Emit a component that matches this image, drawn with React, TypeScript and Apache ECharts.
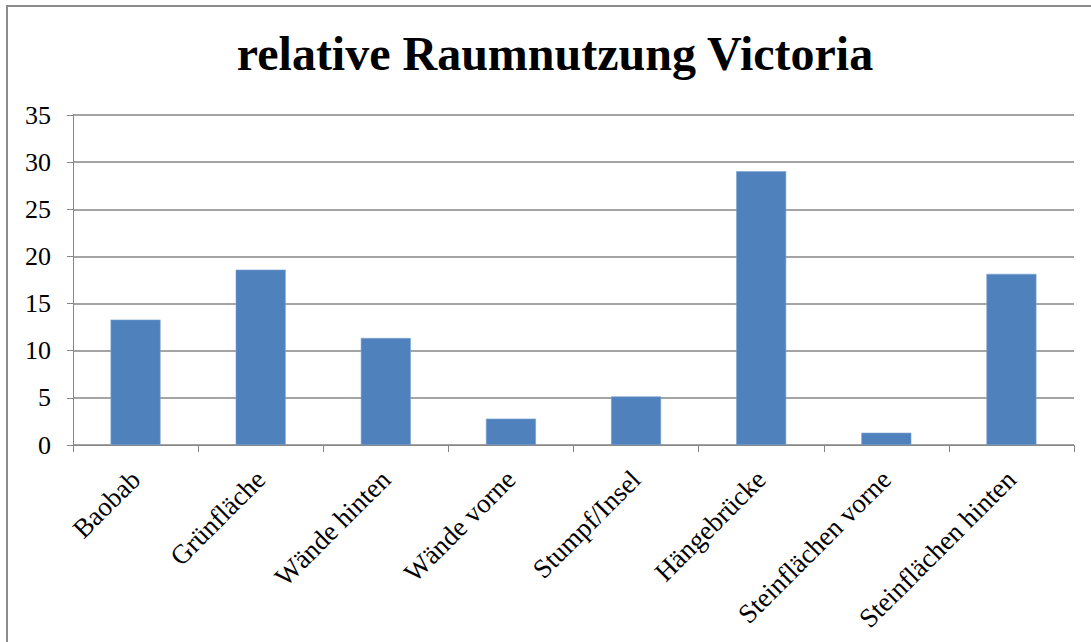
import React, { useEffect, useRef } from "react";
import * as echarts from "echarts";

const titleText = "relative Raumnutzung Victoria";
const categories = [
  "Baobab",
  "Grünfläche",
  "Wände hinten",
  "Wände vorne",
  "Stumpf/Insel",
  "Hängebrücke",
  "Steinflächen vorne",
  "Steinflächen hinten",
];
const values = [13.3, 18.6, 11.35, 2.8, 5.15, 29.05, 1.3, 18.15];
const yMin = 0;
const yMax = 35;
const yStep = 5;

const FONT = "'Liberation Serif', 'Times New Roman', serif";
const GRAY = "#868686";

export default function App() {
  const ref = useRef<HTMLDivElement>(null);
  useEffect(() => {
    if (!ref.current) return;
    const chart = echarts.init(ref.current, undefined, { renderer: "svg" });
    chart.setOption({
      animation: false,
      backgroundColor: "#ffffff",
      title: {
        text: titleText,
        left: 550,
        top: 24,
        textAlign: "center",
        textStyle: {
          fontFamily: FONT,
          fontSize: 48,
          fontWeight: "bold",
          color: "#000000",
        },
      },
      graphic: [
        {
          type: "rect",
          shape: { x: 7, y: 6, width: 1300, height: 900 },
          style: { fill: "none", stroke: "#8c8c8c", lineWidth: 2 },
          silent: true,
        },
      ],
      grid: { left: 73, right: 17, top: 115, bottom: 197 },
      xAxis: {
        type: "category",
        data: categories,
        axisLine: { show: true, lineStyle: { color: GRAY, width: 1 } },
        axisTick: { show: true, length: 7, lineStyle: { color: GRAY } },
        axisLabel: {
          rotate: 45,
          interval: 0,
          margin: 30,
          fontFamily: FONT,
          fontSize: 27,
          color: "#000000",
        },
      },
      yAxis: {
        type: "value",
        min: yMin,
        max: yMax,
        interval: yStep,
        axisLine: { show: true, lineStyle: { color: GRAY, width: 1 } },
        axisTick: { show: true, length: 6, lineStyle: { color: GRAY } },
        splitLine: { show: true, lineStyle: { color: GRAY, width: 1.5 } },
        axisLabel: {
          margin: 22,
          fontFamily: FONT,
          fontSize: 26,
          color: "#000000",
        },
      },
      series: [
        {
          type: "bar",
          data: values,
          barWidth: 50,
          itemStyle: { color: "#4F81BD", borderColor: "#7ea3d0", borderWidth: 0.6 },
        },
      ],
    });
    return () => chart.dispose();
  }, []);
  return (
    <div
      ref={ref}
      style={{ position: "fixed", left: 0, top: 0, width: 1091, height: 642, background: "#fff" }}
    />
  );
}
